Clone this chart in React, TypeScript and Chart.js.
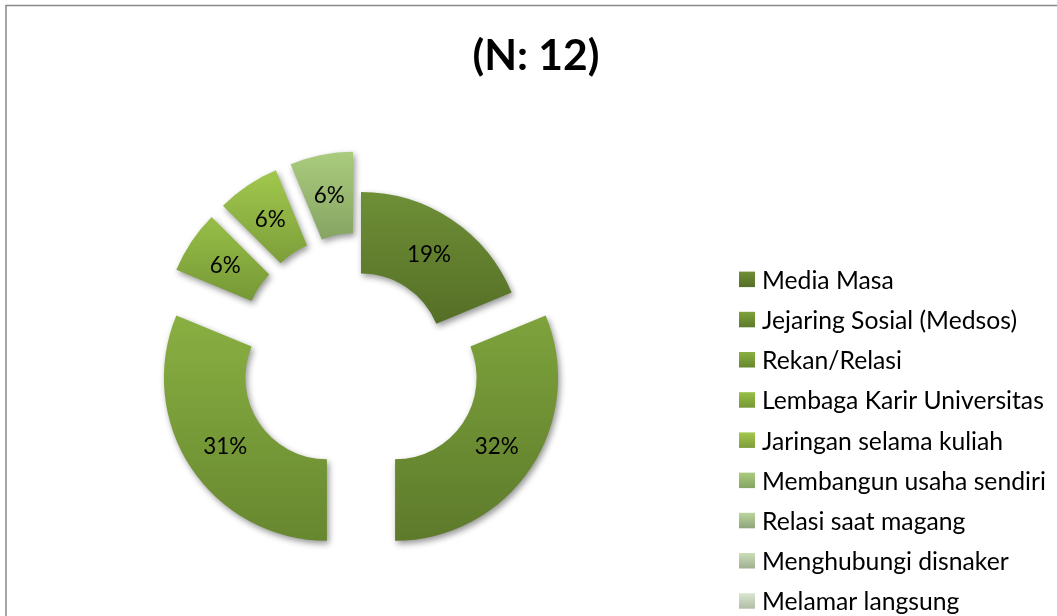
import { useEffect, useRef } from 'react';
import { Chart, registerables } from 'chart.js';

Chart.register(...registerables);

const categories = [
  'Media Masa',
  'Jejaring Sosial (Medsos)',
  'Rekan/Relasi',
  'Lembaga Karir Universitas',
  'Jaringan selama kuliah',
  'Membangun usaha sendiri',
  'Relasi saat magang',
  'Menghubungi disnaker',
  'Melamar langsung',
];
const responses = [3, 5, 5, 1, 1, 1, 0, 0, 0];
const percentLabels = ['19%', '32%', '31%', '6%', '6%', '6%', '', '', ''];
const chartTitle = '(N: 12)';

const gradientTop = ['#6f8f37', '#7ea33c', '#89b042', '#97bf47', '#a1c84d', '#aacc7d', '#b9d59d', '#cadeb8', '#d9e7ce'];
const gradientBottom = ['#556f26', '#5d7a2b', '#67872f', '#769836', '#7d9e3a', '#86a463', '#8fa57a', '#a0b092', '#b1bda7'];
const sliceOffsets = [0, 41, 41, 41, 41, 41, 0, 0, 0];

const FONT = 'Lato, "Noto Sans", sans-serif';

function fitSize(ctx: CanvasRenderingContext2D, text: string, weight: string, target: number) {
  ctx.font = `${weight} 20px ${FONT}`;
  const w = ctx.measureText(text).width;
  return (20 * target) / w;
}

const excelPie = {
  id: 'excelPie',
  beforeDraw(chart: any) {
    const ctx = chart.ctx as CanvasRenderingContext2D;
    ctx.save();
    ctx.fillStyle = '#ffffff';
    ctx.fillRect(0, 0, chart.width, chart.height);
    ctx.strokeStyle = '#898989';
    ctx.lineWidth = 1.5;
    ctx.strokeRect(6, 5.5, 2000, 2000);
    ctx.restore();
  },
  beforeDatasetDraw(chart: any, args: any) {
    const ctx = chart.ctx as CanvasRenderingContext2D;
    const meta = args.meta;
    const ca = chart.chartArea;
    const ctrl = meta.controller;
    const bx = (ca.left + ca.right) / 2 + (ctrl.offsetX || 0);
    const by = (ca.top + ca.bottom) / 2 + (ctrl.offsetY || 0);
    meta.data.forEach((arc: any, i: number) => {
      const mid = (arc.startAngle + arc.endAngle) / 2;
      const d = sliceOffsets[i] || 0;
      arc.x = bx + Math.cos(mid) * d;
      arc.y = by + Math.sin(mid) * d;
      let minY = Infinity;
      let maxY = -Infinity;
      const steps = 24;
      for (let s = 0; s <= steps; s++) {
        const a = arc.startAngle + ((arc.endAngle - arc.startAngle) * s) / steps;
        for (const r of [arc.innerRadius, arc.outerRadius]) {
          const y = arc.y + Math.sin(a) * r;
          if (y < minY) minY = y;
          if (y > maxY) maxY = y;
        }
      }
      if (!isFinite(minY) || maxY - minY < 1) return;
      const g = ctx.createLinearGradient(0, minY, 0, maxY);
      g.addColorStop(0, gradientTop[i]);
      g.addColorStop(1, gradientBottom[i]);
      arc.options = Object.assign({}, arc.options, { backgroundColor: g });
    });
    ctx.save();
    ctx.shadowColor = 'rgba(0,0,0,0.42)';
    ctx.shadowBlur = 6;
    ctx.shadowOffsetX = 2;
    ctx.shadowOffsetY = 3;
  },
  afterDatasetDraw(chart: any) {
    chart.ctx.restore();
  },
  afterDatasetsDraw(chart: any) {
    const ctx = chart.ctx as CanvasRenderingContext2D;
    const meta = chart.getDatasetMeta(0);
    const size = fitSize(ctx, '19%', 'normal', 44);
    ctx.save();
    ctx.font = `normal ${size}px ${FONT}`;
    ctx.fillStyle = '#000000';
    ctx.textAlign = 'center';
    ctx.textBaseline = 'middle';
    meta.data.forEach((arc: any, i: number) => {
      const txt = percentLabels[i];
      if (!txt || arc.endAngle - arc.startAngle <= 0) return;
      const mid = (arc.startAngle + arc.endAngle) / 2;
      const r = (arc.innerRadius + arc.outerRadius) / 2;
      ctx.fillText(txt, arc.x + Math.cos(mid) * r, arc.y + Math.sin(mid) * r + 1);
    });
    ctx.restore();
  },
  afterDraw(chart: any) {
    const ctx = chart.ctx as CanvasRenderingContext2D;
    ctx.save();
    // title
    const tSize = fitSize(ctx, chartTitle, 'bold', 127);
    ctx.font = `bold ${tSize}px ${FONT}`;
    ctx.fillStyle = '#000000';
    ctx.textAlign = 'center';
    ctx.textBaseline = 'alphabetic';
    ctx.fillText(chartTitle, 536, 69.5);
    // legend
    const lSize = fitSize(ctx, 'Membangun usaha sendiri', 'normal', 284);
    ctx.font = `normal ${lSize}px ${FONT}`;
    ctx.textAlign = 'left';
    const labels: string[] = chart.data.labels;
    labels.forEach((lab, i) => {
      const cy = 279.3 + i * 40.2;
      const g = ctx.createLinearGradient(0, cy - 7.7, 0, cy + 7.7);
      g.addColorStop(0, gradientTop[i]);
      g.addColorStop(1, gradientBottom[i]);
      ctx.fillStyle = g;
      ctx.fillRect(739, cy - 7.7, 16, 15.5);
      ctx.fillStyle = '#000000';
      ctx.fillText(lab, 762, cy + 9.4);
    });
    ctx.restore();
  },
};

export default function App() {
  const ref = useRef<HTMLCanvasElement | null>(null);
  useEffect(() => {
    if (!ref.current) return;
    const chart = new Chart(ref.current, {
      type: 'doughnut',
      data: {
        labels: categories,
        datasets: [
          {
            data: responses,
            backgroundColor: gradientTop,
            borderWidth: 0,
          },
        ],
      },
      options: {
        responsive: false,
        animation: false,
        events: [],
        radius: 163,
        cutout: '50%',
        layout: { padding: { left: 0, right: 335, top: 94, bottom: 0 } },
        plugins: {
          legend: { display: false },
          title: { display: false },
          tooltip: { enabled: false },
        },
      } as any,
      plugins: [excelPie],
    });
    return () => chart.destroy();
  }, []);
  return (
    <div style={{ position: 'absolute', left: 0, top: 0, width: 1057, height: 616 }}>
      <canvas ref={ref} width={1057} height={616} style={{ display: 'block' }} />
    </div>
  );
}
